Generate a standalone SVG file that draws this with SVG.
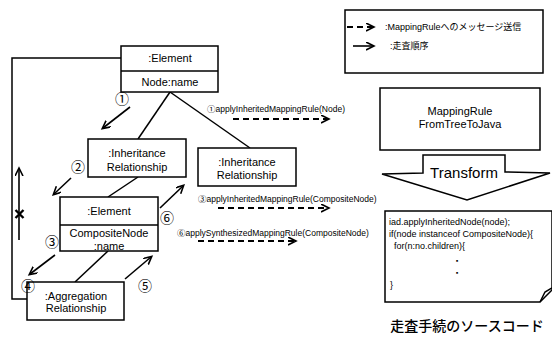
<svg xmlns="http://www.w3.org/2000/svg" width="552" height="339" viewBox="0 0 552 339">
<defs>
<marker id="ah" markerWidth="10" markerHeight="10" refX="7" refY="4" orient="auto" markerUnits="userSpaceOnUse">
<path d="M0,0 L8,4 L0,8" fill="none" stroke="#000" stroke-width="1.6"/>
</marker>
<style>
.box{fill:#fff;stroke:#000;stroke-width:1.5}
.ln{fill:none;stroke:#000;stroke-width:1.5}
.arr{fill:none;stroke:#000;stroke-width:1.6;marker-end:url(#ah)}
.dash{fill:none;stroke:#000;stroke-width:2.2;stroke-dasharray:6,4;marker-end:url(#ah)}
.t{font-family:"Liberation Sans","Noto Sans CJK JP",sans-serif;font-size:11px;fill:#000;text-anchor:middle}
.s{font-family:"Liberation Sans","Noto Sans CJK JP",sans-serif;font-size:8.5px;fill:#000}
.c{font-family:"Liberation Sans","Noto Sans CJK JP",sans-serif;font-size:9px;fill:#000}
.n{font-family:"Noto Sans CJK JP",sans-serif;font-size:14px;fill:#000;text-anchor:middle}
</style>
</defs>
<rect width="552" height="339" fill="#fff"/>

<g id="connectors">
<path class="ln" d="M121,58 H12 V299 H27"/>
<path class="ln" d="M170,92 L138,139"/>
<path class="ln" d="M170,92 L250,148"/>
<path class="ln" d="M138,177 L108,197"/>
<path class="ln" d="M75,282 L108,251"/>
<path class="arr" d="M130,107 L103,128"/>
<path class="arr" d="M71,178 L54,194"/>
<path class="arr" d="M19,240 L19,169"/>
<path class="arr" d="M55,255 L30,274"/>
<path class="arr" d="M125,279 L151,257"/>
<path class="arr" d="M160,208 L183,186"/>
<path class="dash" d="M233,119 H328"/>
<path class="dash" d="M218,208 H328"/>
<path class="dash" d="M198,241 H295"/>
<path d="M15.5,210 L23.5,218 M23.5,210 L15.5,218" stroke="#000" stroke-width="2.4" fill="none"/>
</g>

<g id="element1">
<rect class="box" x="121" y="46" width="97" height="46"/>
<line class="ln" x1="121" y1="71" x2="218" y2="71"/>
<text class="t" x="170" y="62">:Element</text>
<text class="t" x="170" y="86">Node:name</text>
</g>

<g id="inheritance1">
<rect class="box" x="88" y="139" width="98" height="38"/>
<text class="t" x="137" y="157">:Inheritance</text>
<text class="t" x="137" y="171">Relationship</text>
</g>

<g id="inheritance2">
<rect class="box" x="198" y="148" width="98" height="38"/>
<text class="t" x="247" y="166">:Inheritance</text>
<text class="t" x="247" y="179">Relationship</text>
</g>

<g id="element2">
<rect class="box" x="60" y="197" width="98" height="54"/>
<line class="ln" x1="60" y1="225" x2="158" y2="225"/>
<text class="t" x="109" y="215">:Element</text>
<text class="t" x="109" y="237">CompositeNode</text>
<text class="t" x="109" y="250">:name</text>
</g>

<g id="aggregation">
<rect class="box" x="27" y="282" width="97" height="38"/>
<text class="t" x="76" y="300">:Aggregation</text>
<text class="t" x="76" y="312">Relationship</text>
</g>

<g id="labels">
<text class="n" x="122" y="104">①</text>
<text class="n" x="78" y="172">②</text>
<text class="n" x="52" y="247">③</text>
<text class="n" x="28" y="291">④</text>
<text class="n" x="145" y="291">⑤</text>
<text class="n" x="167" y="223">⑥</text>
<text class="s" x="207" y="112">①applyInheritedMappingRule(Node)</text>
<text class="s" x="198" y="202">③applyInheritedMappingRule(CompositeNode)</text>
<text class="s" x="177" y="236">⑥applySynthesizedMappingRule(CompositeNode)</text>
</g>

<g id="legend">
<rect class="box" x="345" y="10" width="198" height="63"/>
<path class="dash" d="M347,27 H373"/>
<path class="arr" d="M353,46 H373"/>
<text class="c" x="385" y="30">:MappingRuleへのメッセージ送信</text>
<text class="c" x="390" y="49">:走査順序</text>
</g>

<g id="mappingrule">
<rect class="box" x="380" y="88" width="160" height="62"/>
<text class="t" x="460" y="115">MappingRule</text>
<text class="t" x="460" y="128">FromTreeToJava</text>
</g>

<g id="transform">
<path class="box" d="M423,155 H505 V172 L550,173 L467,200 L382,174 L423,173 Z"/>
<text class="t" x="464" y="178" style="font-size:15px">Transform</text>
</g>

<g id="code">
<path class="box" d="M385,211 H552 V290 L540,302 H385 Z"/>
<path class="ln" d="M540,302 L545,292 L552,288"/>
<text class="c" x="389" y="225">iad.applyInheritedNode(node);</text>
<text class="c" x="389" y="237">if(node instanceof CompositeNode){</text>
<text class="c" x="394" y="249">for(n:no.children){</text>
<text class="c" x="456" y="262" style="font-size:3.5px">■</text>
<text class="c" x="456" y="274" style="font-size:3.5px">■</text>
<text class="c" x="390" y="288">}</text>
<text class="t" x="467" y="331" style="font-size:14px;font-weight:500">走査手続のソースコード</text>
</g>
</svg>
